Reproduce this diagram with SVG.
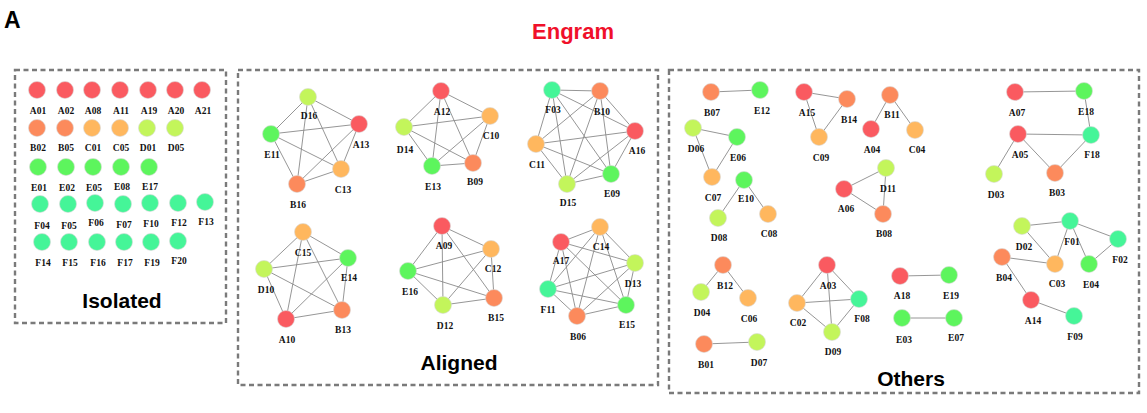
<svg xmlns="http://www.w3.org/2000/svg" width="1147" height="413" viewBox="0 0 1147 413">
<style>
.box{fill:none;stroke:#7a7a7a;stroke-width:2.4;stroke-dasharray:5 3.5}
.e line{stroke:#8a8a8a;stroke-width:0.9}
circle{stroke:#d8d8d8;stroke-width:0.6}
.a{fill:#fa5a60}.b{fill:#fc8a5c}.c{fill:#ffb75e}.d{fill:#c3f55b}.ee{fill:#5df55d}.f{fill:#45f598}
text.l{font-family:"Liberation Serif",serif;font-weight:bold;font-size:9.5px;fill:#111;text-anchor:middle}
text.h{font-family:"Liberation Sans",Arial,sans-serif;font-weight:bold;fill:#000;text-anchor:middle}
</style>
<rect width="1147" height="413" fill="#fff"/>
<text class="h" x="4" y="28" font-size="23" text-anchor="start" style="text-anchor:start">A</text>
<text class="h" x="573" y="39" font-size="22" fill="#f0102a" style="fill:#f0102a">Engram</text>
<rect class="box" x="15" y="70" width="211" height="253"/>
<rect class="box" x="238" y="70" width="420" height="315"/>
<rect class="box" x="669" y="70" width="470" height="323"/>
<text class="h" x="122" y="308" font-size="21">Isolated</text>
<text class="h" x="459" y="370" font-size="21">Aligned</text>
<text class="h" x="911" y="386" font-size="21">Others</text>
<g id="connectors" class="e">
<line x1="308" y1="97" x2="359" y2="124"/><line x1="308" y1="97" x2="271" y2="134"/><line x1="308" y1="97" x2="341" y2="169"/><line x1="308" y1="97" x2="297" y2="184"/><line x1="359" y1="124" x2="271" y2="134"/><line x1="359" y1="124" x2="341" y2="169"/><line x1="359" y1="124" x2="297" y2="184"/><line x1="271" y1="134" x2="341" y2="169"/><line x1="271" y1="134" x2="297" y2="184"/><line x1="341" y1="169" x2="297" y2="184"/>
<line x1="441" y1="91" x2="490" y2="116"/><line x1="441" y1="91" x2="404" y2="127"/><line x1="441" y1="91" x2="432" y2="166"/><line x1="441" y1="91" x2="473" y2="163"/><line x1="490" y1="116" x2="404" y2="127"/><line x1="490" y1="116" x2="432" y2="166"/><line x1="490" y1="116" x2="473" y2="163"/><line x1="404" y1="127" x2="432" y2="166"/><line x1="404" y1="127" x2="473" y2="163"/><line x1="432" y1="166" x2="473" y2="163"/>
<line x1="552" y1="90" x2="600" y2="91"/><line x1="552" y1="90" x2="635" y2="131"/><line x1="552" y1="90" x2="536" y2="144"/><line x1="552" y1="90" x2="567" y2="184"/><line x1="552" y1="90" x2="611" y2="174"/><line x1="600" y1="91" x2="635" y2="131"/><line x1="600" y1="91" x2="536" y2="144"/><line x1="600" y1="91" x2="567" y2="184"/><line x1="600" y1="91" x2="611" y2="174"/><line x1="635" y1="131" x2="536" y2="144"/><line x1="635" y1="131" x2="567" y2="184"/><line x1="635" y1="131" x2="611" y2="174"/><line x1="536" y1="144" x2="567" y2="184"/><line x1="536" y1="144" x2="611" y2="174"/><line x1="567" y1="184" x2="611" y2="174"/>
<line x1="303" y1="232" x2="348" y2="258"/><line x1="303" y1="232" x2="264" y2="269"/><line x1="303" y1="232" x2="342" y2="310"/><line x1="303" y1="232" x2="286" y2="319"/><line x1="348" y1="258" x2="264" y2="269"/><line x1="348" y1="258" x2="342" y2="310"/><line x1="348" y1="258" x2="286" y2="319"/><line x1="264" y1="269" x2="342" y2="310"/><line x1="264" y1="269" x2="286" y2="319"/><line x1="342" y1="310" x2="286" y2="319"/>
<line x1="442" y1="226" x2="491" y2="249"/><line x1="442" y1="226" x2="408" y2="271"/><line x1="442" y1="226" x2="494" y2="298"/><line x1="442" y1="226" x2="443" y2="305"/><line x1="491" y1="249" x2="408" y2="271"/><line x1="491" y1="249" x2="494" y2="298"/><line x1="491" y1="249" x2="443" y2="305"/><line x1="408" y1="271" x2="494" y2="298"/><line x1="408" y1="271" x2="443" y2="305"/><line x1="494" y1="298" x2="443" y2="305"/>
<line x1="600" y1="227" x2="561" y2="242"/><line x1="600" y1="227" x2="635" y2="263"/><line x1="600" y1="227" x2="548" y2="289"/><line x1="600" y1="227" x2="626" y2="305"/><line x1="600" y1="227" x2="577" y2="316"/><line x1="561" y1="242" x2="635" y2="263"/><line x1="561" y1="242" x2="548" y2="289"/><line x1="561" y1="242" x2="626" y2="305"/><line x1="561" y1="242" x2="577" y2="316"/><line x1="635" y1="263" x2="548" y2="289"/><line x1="635" y1="263" x2="626" y2="305"/><line x1="635" y1="263" x2="577" y2="316"/><line x1="548" y1="289" x2="626" y2="305"/><line x1="548" y1="289" x2="577" y2="316"/><line x1="626" y1="305" x2="577" y2="316"/>
<line x1="711" y1="92" x2="760" y2="90"/>
<line x1="804" y1="92" x2="847" y2="99"/><line x1="804" y1="92" x2="819" y2="137"/><line x1="847" y1="99" x2="819" y2="137"/>
<line x1="890" y1="95" x2="871" y2="129"/><line x1="890" y1="95" x2="915" y2="130"/>
<line x1="693" y1="128" x2="737" y2="137"/><line x1="693" y1="128" x2="712" y2="177"/><line x1="737" y1="137" x2="712" y2="177"/>
<line x1="744" y1="180" x2="718" y2="218"/><line x1="744" y1="180" x2="768" y2="214"/>
<line x1="886" y1="168" x2="844" y2="189"/><line x1="886" y1="168" x2="883" y2="214"/><line x1="844" y1="189" x2="883" y2="214"/>
<line x1="723" y1="265" x2="701" y2="292"/><line x1="723" y1="265" x2="748" y2="298"/>
<line x1="704" y1="344" x2="757" y2="342"/>
<line x1="827" y1="265" x2="797" y2="303"/><line x1="827" y1="265" x2="859" y2="299"/><line x1="827" y1="265" x2="832" y2="332"/><line x1="797" y1="303" x2="859" y2="299"/><line x1="797" y1="303" x2="832" y2="332"/><line x1="859" y1="299" x2="832" y2="332"/>
<line x1="900" y1="276" x2="949" y2="275"/>
<line x1="902" y1="318" x2="954" y2="318"/>
<line x1="1015" y1="92" x2="1084" y2="91"/><line x1="1084" y1="91" x2="1091" y2="135"/><line x1="1018" y1="134" x2="1091" y2="135"/><line x1="1018" y1="134" x2="994" y2="174"/><line x1="1018" y1="134" x2="1055" y2="173"/><line x1="1055" y1="173" x2="1091" y2="135"/>
<line x1="1022" y1="226" x2="1070" y2="221"/><line x1="1022" y1="226" x2="1055" y2="264"/><line x1="1070" y1="221" x2="1055" y2="264"/><line x1="1070" y1="221" x2="1118" y2="239"/><line x1="1070" y1="221" x2="1089" y2="264"/><line x1="1089" y1="264" x2="1118" y2="239"/><line x1="1002" y1="257" x2="1055" y2="264"/><line x1="1002" y1="257" x2="1031" y2="300"/><line x1="1031" y1="300" x2="1074" y2="316"/>
</g>
<g id="isolated">
<g id="n-A01"><circle class="a" cx="37" cy="90" r="8.5"/><text class="l" x="38" y="113.5">A01</text></g>
<g id="n-A02"><circle class="a" cx="65" cy="90" r="8.5"/><text class="l" x="66" y="113.5">A02</text></g>
<g id="n-A08"><circle class="a" cx="92" cy="90" r="8.5"/><text class="l" x="93" y="113.5">A08</text></g>
<g id="n-A11"><circle class="a" cx="120" cy="90" r="8.5"/><text class="l" x="121" y="113.5">A11</text></g>
<g id="n-A19"><circle class="a" cx="148" cy="90" r="8.5"/><text class="l" x="149" y="113.5">A19</text></g>
<g id="n-A20"><circle class="a" cx="175" cy="90" r="8.5"/><text class="l" x="176" y="113.5">A20</text></g>
<g id="n-A21"><circle class="a" cx="202" cy="90" r="8.5"/><text class="l" x="203" y="113.5">A21</text></g>
<g id="n-B02"><circle class="b" cx="37" cy="128" r="8.5"/><text class="l" x="38" y="151">B02</text></g>
<g id="n-B05"><circle class="b" cx="65" cy="128" r="8.5"/><text class="l" x="66" y="151">B05</text></g>
<g id="n-C01"><circle class="c" cx="92" cy="128" r="8.5"/><text class="l" x="93" y="151">C01</text></g>
<g id="n-C05"><circle class="c" cx="120" cy="128" r="8.5"/><text class="l" x="121" y="151">C05</text></g>
<g id="n-D01"><circle class="d" cx="147" cy="128" r="8.5"/><text class="l" x="148" y="151">D01</text></g>
<g id="n-D05"><circle class="d" cx="175" cy="128" r="8.5"/><text class="l" x="176" y="151">D05</text></g>
<g id="n-E01"><circle class="ee" cx="38" cy="167" r="8.5"/><text class="l" x="39" y="190.5">E01</text></g>
<g id="n-E02"><circle class="ee" cx="66" cy="167" r="8.5"/><text class="l" x="67" y="190.5">E02</text></g>
<g id="n-E05"><circle class="ee" cx="93" cy="167" r="8.5"/><text class="l" x="94" y="190.5">E05</text></g>
<g id="n-E08"><circle class="ee" cx="121" cy="167" r="8.5"/><text class="l" x="122" y="190">E08</text></g>
<g id="n-E17"><circle class="ee" cx="149" cy="167" r="8.5"/><text class="l" x="150" y="190">E17</text></g>
<g id="n-F04"><circle class="f" cx="40" cy="204" r="8.5"/><text class="l" x="42" y="228.5">F04</text></g>
<g id="n-F05"><circle class="f" cx="68" cy="204" r="8.5"/><text class="l" x="69" y="228.5">F05</text></g>
<g id="n-F06"><circle class="f" cx="95" cy="203" r="8.5"/><text class="l" x="96" y="226">F06</text></g>
<g id="n-F07"><circle class="f" cx="123" cy="204" r="8.5"/><text class="l" x="124" y="227.5">F07</text></g>
<g id="n-F10"><circle class="f" cx="150" cy="203" r="8.5"/><text class="l" x="151" y="226.5">F10</text></g>
<g id="n-F12"><circle class="f" cx="178" cy="203" r="8.5"/><text class="l" x="179" y="225.5">F12</text></g>
<g id="n-F13"><circle class="f" cx="205" cy="202" r="8.5"/><text class="l" x="206" y="224.5">F13</text></g>
<g id="n-F14"><circle class="f" cx="42" cy="242" r="8.5"/><text class="l" x="43" y="265.5">F14</text></g>
<g id="n-F15"><circle class="f" cx="69" cy="242" r="8.5"/><text class="l" x="70" y="265.5">F15</text></g>
<g id="n-F16"><circle class="f" cx="97" cy="242" r="8.5"/><text class="l" x="98" y="265.5">F16</text></g>
<g id="n-F17"><circle class="f" cx="124" cy="242" r="8.5"/><text class="l" x="125" y="265.5">F17</text></g>
<g id="n-F19"><circle class="f" cx="151" cy="242" r="8.5"/><text class="l" x="152" y="265.5">F19</text></g>
<g id="n-F20"><circle class="f" cx="178" cy="241" r="8.5"/><text class="l" x="179" y="263.5">F20</text></g>
</g>
<g id="aligned">
<g id="n-D16"><circle class="d" cx="308" cy="97" r="8.5"/><text class="l" x="309" y="118.5">D16</text></g>
<g id="n-A13"><circle class="a" cx="359" cy="124" r="8.5"/><text class="l" x="361" y="147.5">A13</text></g>
<g id="n-E11"><circle class="ee" cx="271" cy="134" r="8.5"/><text class="l" x="272" y="157.5">E11</text></g>
<g id="n-C13"><circle class="c" cx="341" cy="169" r="8.5"/><text class="l" x="343" y="192.5">C13</text></g>
<g id="n-B16"><circle class="b" cx="297" cy="184" r="8.5"/><text class="l" x="298" y="207.5">B16</text></g>
<g id="n-A12"><circle class="a" cx="441" cy="91" r="8.5"/><text class="l" x="442" y="114.5">A12</text></g>
<g id="n-C10"><circle class="c" cx="490" cy="116" r="8.5"/><text class="l" x="491" y="138.5">C10</text></g>
<g id="n-D14"><circle class="d" cx="404" cy="127" r="8.5"/><text class="l" x="405" y="152.5">D14</text></g>
<g id="n-E13"><circle class="ee" cx="432" cy="166" r="8.5"/><text class="l" x="433" y="189.5">E13</text></g>
<g id="n-B09"><circle class="b" cx="473" cy="163" r="8.5"/><text class="l" x="475" y="184.5">B09</text></g>
<g id="n-F03"><circle class="f" cx="552" cy="90" r="8.5"/><text class="l" x="553" y="112.5">F03</text></g>
<g id="n-B10"><circle class="b" cx="600" cy="91" r="8.5"/><text class="l" x="602" y="114.5">B10</text></g>
<g id="n-A16"><circle class="a" cx="635" cy="131" r="8.5"/><text class="l" x="637" y="153.5">A16</text></g>
<g id="n-C11"><circle class="c" cx="536" cy="144" r="8.5"/><text class="l" x="537" y="167.5">C11</text></g>
<g id="n-D15"><circle class="d" cx="567" cy="184" r="8.5"/><text class="l" x="568" y="205.5">D15</text></g>
<g id="n-E09"><circle class="ee" cx="611" cy="174" r="8.5"/><text class="l" x="612" y="196.5">E09</text></g>
<g id="n-C15"><circle class="c" cx="303" cy="232" r="8.5"/><text class="l" x="303" y="255.5">C15</text></g>
<g id="n-E14"><circle class="ee" cx="348" cy="258" r="8.5"/><text class="l" x="349" y="280.5">E14</text></g>
<g id="n-D10"><circle class="d" cx="264" cy="269" r="8.5"/><text class="l" x="266" y="292.5">D10</text></g>
<g id="n-B13"><circle class="b" cx="342" cy="310" r="8.5"/><text class="l" x="343" y="332.5">B13</text></g>
<g id="n-A10"><circle class="a" cx="286" cy="319" r="8.5"/><text class="l" x="287" y="342.5">A10</text></g>
<g id="n-A09"><circle class="a" cx="442" cy="226" r="8.5"/><text class="l" x="444" y="248.5">A09</text></g>
<g id="n-C12"><circle class="c" cx="491" cy="249" r="8.5"/><text class="l" x="493" y="271.5">C12</text></g>
<g id="n-E16"><circle class="ee" cx="408" cy="271" r="8.5"/><text class="l" x="410" y="294.5">E16</text></g>
<g id="n-B15"><circle class="b" cx="494" cy="298" r="8.5"/><text class="l" x="496" y="320.5">B15</text></g>
<g id="n-D12"><circle class="d" cx="443" cy="305" r="8.5"/><text class="l" x="445" y="328.5">D12</text></g>
<g id="n-C14"><circle class="c" cx="600" cy="227" r="8.5"/><text class="l" x="601" y="249.5">C14</text></g>
<g id="n-A17"><circle class="a" cx="561" cy="242" r="8.5"/><text class="l" x="561" y="263.5">A17</text></g>
<g id="n-D13"><circle class="d" cx="635" cy="263" r="8.5"/><text class="l" x="633" y="286.5">D13</text></g>
<g id="n-F11"><circle class="f" cx="548" cy="289" r="8.5"/><text class="l" x="548" y="312.5">F11</text></g>
<g id="n-E15"><circle class="ee" cx="626" cy="305" r="8.5"/><text class="l" x="627" y="327.5">E15</text></g>
<g id="n-B06"><circle class="b" cx="577" cy="316" r="8.5"/><text class="l" x="578" y="339.5">B06</text></g>
</g>
<g id="others">
<g id="n-B07"><circle class="b" cx="711" cy="92" r="8.5"/><text class="l" x="712" y="115.5">B07</text></g>
<g id="n-E12"><circle class="ee" cx="760" cy="90" r="8.5"/><text class="l" x="762" y="113.5">E12</text></g>
<g id="n-A15"><circle class="a" cx="804" cy="92" r="8.5"/><text class="l" x="807" y="115.5">A15</text></g>
<g id="n-B14"><circle class="b" cx="847" cy="99" r="8.5"/><text class="l" x="849" y="122.5">B14</text></g>
<g id="n-C09"><circle class="c" cx="819" cy="137" r="8.5"/><text class="l" x="821" y="160.5">C09</text></g>
<g id="n-B11"><circle class="b" cx="890" cy="95" r="8.5"/><text class="l" x="892" y="117.5">B11</text></g>
<g id="n-A04"><circle class="a" cx="871" cy="129" r="8.5"/><text class="l" x="872" y="152.5">A04</text></g>
<g id="n-C04"><circle class="c" cx="915" cy="130" r="8.5"/><text class="l" x="917" y="152.5">C04</text></g>
<g id="n-D06"><circle class="d" cx="693" cy="128" r="8.5"/><text class="l" x="696" y="151.5">D06</text></g>
<g id="n-E06"><circle class="ee" cx="737" cy="137" r="8.5"/><text class="l" x="738" y="160.5">E06</text></g>
<g id="n-C07"><circle class="c" cx="712" cy="177" r="8.5"/><text class="l" x="713" y="200.5">C07</text></g>
<g id="n-E10"><circle class="ee" cx="744" cy="180" r="8.5"/><text class="l" x="746" y="201.5">E10</text></g>
<g id="n-D08"><circle class="d" cx="718" cy="218" r="8.5"/><text class="l" x="719" y="240.5">D08</text></g>
<g id="n-C08"><circle class="c" cx="768" cy="214" r="8.5"/><text class="l" x="769" y="236.5">C08</text></g>
<g id="n-D11"><circle class="d" cx="886" cy="168" r="8.5"/><text class="l" x="888" y="191.5">D11</text></g>
<g id="n-A06"><circle class="a" cx="844" cy="189" r="8.5"/><text class="l" x="846" y="211.5">A06</text></g>
<g id="n-B08"><circle class="b" cx="883" cy="214" r="8.5"/><text class="l" x="884" y="236.5">B08</text></g>
<g id="n-B12"><circle class="b" cx="723" cy="265" r="8.5"/><text class="l" x="725" y="288.5">B12</text></g>
<g id="n-D04"><circle class="d" cx="701" cy="292" r="8.5"/><text class="l" x="702" y="315.5">D04</text></g>
<g id="n-C06"><circle class="c" cx="748" cy="298" r="8.5"/><text class="l" x="749" y="321.5">C06</text></g>
<g id="n-B01"><circle class="b" cx="704" cy="344" r="8.5"/><text class="l" x="706" y="367.5">B01</text></g>
<g id="n-D07"><circle class="d" cx="757" cy="342" r="8.5"/><text class="l" x="759" y="365.5">D07</text></g>
<g id="n-A03"><circle class="a" cx="827" cy="265" r="8.5"/><text class="l" x="828" y="288.5">A03</text></g>
<g id="n-C02"><circle class="c" cx="797" cy="303" r="8.5"/><text class="l" x="798" y="325.5">C02</text></g>
<g id="n-F08"><circle class="f" cx="859" cy="299" r="8.5"/><text class="l" x="862" y="321.5">F08</text></g>
<g id="n-D09"><circle class="d" cx="832" cy="332" r="8.5"/><text class="l" x="833" y="354.5">D09</text></g>
<g id="n-A18"><circle class="a" cx="900" cy="276" r="8.5"/><text class="l" x="902" y="298.5">A18</text></g>
<g id="n-E19"><circle class="ee" cx="949" cy="275" r="8.5"/><text class="l" x="951" y="298.5">E19</text></g>
<g id="n-E03"><circle class="ee" cx="902" cy="318" r="8.5"/><text class="l" x="904" y="342.5">E03</text></g>
<g id="n-E07"><circle class="ee" cx="954" cy="318" r="8.5"/><text class="l" x="956" y="340.5">E07</text></g>
<g id="n-A07"><circle class="a" cx="1015" cy="92" r="8.5"/><text class="l" x="1017" y="115.5">A07</text></g>
<g id="n-E18"><circle class="ee" cx="1084" cy="91" r="8.5"/><text class="l" x="1086" y="114.5">E18</text></g>
<g id="n-A05"><circle class="a" cx="1018" cy="134" r="8.5"/><text class="l" x="1020" y="157.5">A05</text></g>
<g id="n-F18"><circle class="f" cx="1091" cy="135" r="8.5"/><text class="l" x="1092" y="157.5">F18</text></g>
<g id="n-D03"><circle class="d" cx="994" cy="174" r="8.5"/><text class="l" x="996" y="197.5">D03</text></g>
<g id="n-B03"><circle class="b" cx="1055" cy="173" r="8.5"/><text class="l" x="1057" y="195.5">B03</text></g>
<g id="n-D02"><circle class="d" cx="1022" cy="226" r="8.5"/><text class="l" x="1024" y="249.5">D02</text></g>
<g id="n-F01"><circle class="f" cx="1070" cy="221" r="8.5"/><text class="l" x="1072" y="244.5">F01</text></g>
<g id="n-F02"><circle class="f" cx="1118" cy="239" r="8.5"/><text class="l" x="1120" y="262.5">F02</text></g>
<g id="n-B04"><circle class="b" cx="1002" cy="257" r="8.5"/><text class="l" x="1004" y="280.5">B04</text></g>
<g id="n-C03"><circle class="c" cx="1055" cy="264" r="8.5"/><text class="l" x="1057" y="286.5">C03</text></g>
<g id="n-E04"><circle class="ee" cx="1089" cy="264" r="8.5"/><text class="l" x="1091" y="287.5">E04</text></g>
<g id="n-A14"><circle class="a" cx="1031" cy="300" r="8.5"/><text class="l" x="1033" y="323.5">A14</text></g>
<g id="n-F09"><circle class="f" cx="1074" cy="316" r="8.5"/><text class="l" x="1075" y="339.5">F09</text></g>
</g>
</svg>
